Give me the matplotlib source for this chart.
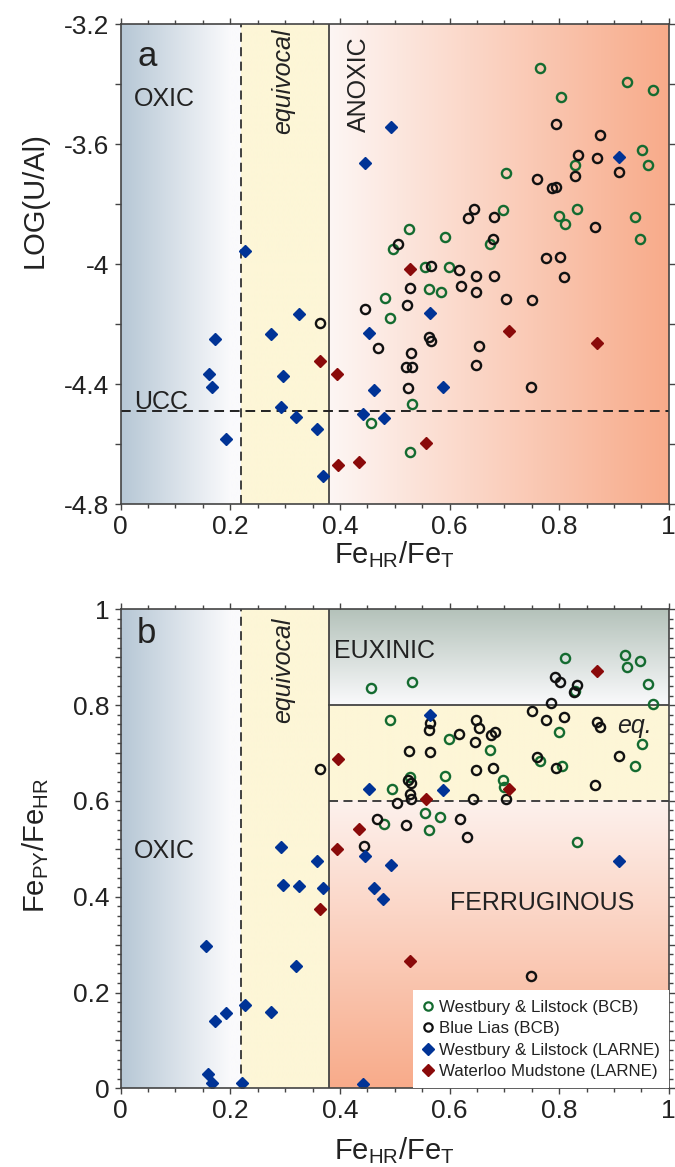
import numpy as np
import matplotlib.pyplot as plt
from matplotlib.ticker import MultipleLocator
from matplotlib.lines import Line2D

plt.rcParams['font.family'] = ['Liberation Sans', 'DejaVu Sans']
plt.rcParams['mathtext.fontset'] = 'custom'
plt.rcParams['mathtext.rm'] = 'Liberation Sans'
plt.rcParams['mathtext.it'] = 'Liberation Sans:italic'

GREEN = '#146b30'
BLACK = '#111111'
BLUE = '#003396'
RED = '#8a0a0a'
TXT = '#222222'

# ---- panel a: FeHR/FeT vs LOG(U/Al) ----
a_wl_bcb_x = [0.765, 0.923, 0.971, 0.804, 0.951, 0.829, 0.962, 0.703, 0.698, 0.799,
              0.833, 0.810, 0.938, 0.948, 0.526, 0.591, 0.674, 0.496, 0.555, 0.599,
              0.482, 0.492, 0.563, 0.584, 0.531, 0.528, 0.457]
a_wl_bcb_y = [-3.348, -3.394, -3.42, -3.443, -3.62, -3.671, -3.671, -3.698, -3.821, -3.839,
              -3.816, -3.868, -3.843, -3.916, -3.882, -3.911, -3.932, -3.951, -4.01, -4.009,
              -4.112, -4.181, -4.084, -4.094, -4.467, -4.628, -4.529]

a_bl_bcb_x = [0.794, 0.875, 0.834, 0.870, 0.909, 0.829, 0.760, 0.787, 0.794, 0.644,
              0.634, 0.682, 0.866, 0.506, 0.679, 0.776, 0.802, 0.566, 0.617, 0.649,
              0.681, 0.808, 0.527, 0.621, 0.648, 0.523, 0.703, 0.751, 0.563, 0.566,
              0.529, 0.653, 0.521, 0.531, 0.649, 0.525, 0.748, 0.469, 0.364, 0.445]
a_bl_bcb_y = [-3.534, -3.57, -3.637, -3.647, -3.694, -3.706, -3.718, -3.748, -3.742, -3.816,
              -3.847, -3.843, -3.877, -3.932, -3.918, -3.981, -3.976, -4.007, -4.02, -4.04,
              -4.04, -4.042, -4.081, -4.072, -4.092, -4.137, -4.117, -4.121, -4.242, -4.256,
              -4.296, -4.272, -4.344, -4.344, -4.338, -4.412, -4.409, -4.281, -4.198, -4.15]

a_wl_larne_x = [0.494, 0.446, 0.226, 0.910, 0.173, 0.161, 0.167, 0.192, 0.275, 0.325,
                0.297, 0.293, 0.320, 0.358, 0.370, 0.454, 0.463, 0.443, 0.480, 0.565, 0.589]
a_wl_larne_y = [-3.543, -3.662, -3.958, -3.642, -4.251, -4.366, -4.41, -4.582, -4.233, -4.166,
                -4.372, -4.478, -4.509, -4.55, -4.706, -4.229, -4.421, -4.501, -4.513, -4.163, -4.409]

a_wm_larne_x = [0.364, 0.395, 0.396, 0.435, 0.528, 0.708, 0.869, 0.558]
a_wm_larne_y = [-4.323, -4.366, -4.669, -4.66, -4.018, -4.222, -4.262, -4.597]

UCC = -4.49

# ---- panel b: FeHR/FeT vs FePY/FeHR ----
b_wl_bcb_x = [0.457, 0.491, 0.495, 0.480, 0.531, 0.810, 0.920, 0.923, 0.947, 0.962,
              0.971, 0.829, 0.599, 0.673, 0.799, 0.951, 0.938, 0.765, 0.805, 0.591,
              0.698, 0.699, 0.527, 0.555, 0.583, 0.563, 0.832]
b_wl_bcb_y = [0.836, 0.769, 0.624, 0.552, 0.848, 0.898, 0.905, 0.880, 0.893, 0.845,
              0.802, 0.830, 0.729, 0.706, 0.744, 0.719, 0.673, 0.683, 0.673, 0.653,
              0.644, 0.630, 0.649, 0.575, 0.567, 0.539, 0.514]

b_bl_bcb_x = [0.364, 0.504, 0.467, 0.444, 0.793, 0.802, 0.833, 0.828, 0.786, 0.750,
              0.776, 0.808, 0.869, 0.875, 0.649, 0.653, 0.617, 0.676, 0.683, 0.564,
              0.563, 0.526, 0.564, 0.647, 0.759, 0.794, 0.909, 0.648, 0.680, 0.865,
              0.524, 0.530, 0.527, 0.529, 0.643, 0.703, 0.521, 0.620, 0.632, 0.748]
b_bl_bcb_y = [0.667, 0.595, 0.563, 0.506, 0.859, 0.848, 0.842, 0.828, 0.804, 0.788,
              0.769, 0.775, 0.765, 0.754, 0.769, 0.752, 0.740, 0.738, 0.743, 0.763,
              0.748, 0.704, 0.703, 0.724, 0.692, 0.669, 0.694, 0.664, 0.669, 0.633,
              0.644, 0.638, 0.614, 0.605, 0.603, 0.605, 0.549, 0.562, 0.525, 0.234]

b_wl_larne_x = [0.454, 0.293, 0.358, 0.494, 0.446, 0.564, 0.589, 0.910, 0.296, 0.325,
                0.369, 0.462, 0.479, 0.156, 0.319, 0.226, 0.275, 0.192, 0.172, 0.160,
                0.166, 0.222, 0.443]
b_wl_larne_y = [0.624, 0.504, 0.475, 0.466, 0.486, 0.780, 0.623, 0.475, 0.424, 0.422,
                0.418, 0.418, 0.396, 0.298, 0.255, 0.173, 0.159, 0.157, 0.140, 0.030,
                0.012, 0.012, 0.009]

b_wm_larne_x = [0.396, 0.434, 0.395, 0.869, 0.558, 0.708, 0.364, 0.528]
b_wm_larne_y = [0.687, 0.541, 0.499, 0.872, 0.605, 0.625, 0.374, 0.266]

legend_labels = ['Westbury & Lilstock (BCB)', 'Blue Lias (BCB)',
                 'Westbury & Lilstock (LARNE)', 'Waterloo Mudstone (LARNE)']

# thresholds
OXIC_LIM = 0.22
ANOX_LIM = 0.38
FERR_LIM = 0.6
EUX_LIM = 0.8


def gradient(ax, x0, x1, y0, y1, c0, c1, horizontal=True):
    # c0 at start (left / bottom), c1 at end
    t = np.linspace(0, 1, 256)
    c0 = np.array(c0) / 255.0
    c1 = np.array(c1) / 255.0
    cols = c0[None, :] * (1 - t[:, None]) + c1[None, :] * t[:, None]
    if horizontal:
        img = cols[None, :, :]
    else:
        img = cols[:, None, :]
    ax.imshow(img, extent=[x0, x1, y0, y1], origin='lower', aspect='auto',
              interpolation='bilinear', zorder=0)


def style_axes(ax):
    for s in ax.spines.values():
        s.set_linewidth(1.2)
        s.set_color('#444444')
        s.set_zorder(5)
    ax.tick_params(which='both', direction='out', top=True, right=True,
                   color='#444444', labelcolor=TXT, labelsize=19, width=1)
    ax.tick_params(which='major', length=4.5)
    ax.tick_params(which='minor', length=2.8)
    ax.set_xlim(0, 1)
    ax.set_xticks([0, 0.2, 0.4, 0.6, 0.8, 1])
    ax.set_xticklabels(['0', '0.2', '0.4', '0.6', '0.8', '1'])
    ax.xaxis.set_minor_locator(MultipleLocator(0.05))


def draw_points(ax, gx, gy, kx, ky, bx, by, rx, ry):
    ax.plot(gx, gy, 'o', ms=6.6, mfc='none', mec=GREEN, mew=1.7, ls='none', zorder=3)
    ax.plot(kx, ky, 'o', ms=6.6, mfc='none', mec=BLACK, mew=1.7, ls='none', zorder=3)
    ax.plot(bx, by, 'D', ms=6.3, color=BLUE, mec=BLUE, ls='none', zorder=4)
    ax.plot(rx, ry, 'D', ms=6.3, color=RED, mec=RED, ls='none', zorder=4)


fig = plt.figure(figsize=(6.75, 11.67), dpi=100)
ax1 = fig.add_axes([0.1788, 0.5681, 0.8119, 0.4113])
ax2 = fig.add_axes([0.1788, 0.0674, 0.8119, 0.4105])

blue0 = (182, 199, 213)
white = (250, 250, 252)
yellow = (253, 246, 215)
salmon = (248, 171, 138)
pinkw = (253, 246, 244)
green0 = (180, 194, 186)

# ---- panel a ----
ya0, ya1 = -4.8, -3.2
gradient(ax1, 0, 0.2, ya0, ya1, blue0, white)
gradient(ax1, 0.2, OXIC_LIM, ya0, ya1, white, white)
gradient(ax1, OXIC_LIM, ANOX_LIM, ya0, ya1, yellow, yellow)
gradient(ax1, ANOX_LIM, 1, ya0, ya1, pinkw, salmon)

ax1.axvline(OXIC_LIM, color='#333333', lw=1.3, ls=(0, (5, 3)), zorder=2)
ax1.axvline(ANOX_LIM, color='#444444', lw=1.3, zorder=2)
ax1.axhline(UCC, color='#222222', lw=1.4, ls=(0, (5, 3)), zorder=2)

draw_points(ax1, a_wl_bcb_x, a_wl_bcb_y, a_bl_bcb_x, a_bl_bcb_y,
            a_wl_larne_x, a_wl_larne_y, a_wm_larne_x, a_wm_larne_y)

style_axes(ax1)
ax1.set_ylim(ya0, ya1)
ax1.set_yticks(np.round(np.arange(-4.8, -3.19, 0.2), 1))
ax1.set_yticklabels(['-4.8', '', '-4.4', '', '-4', '', '-3.6', '', '-3.2'])

ax1.text(0.03, -3.34, 'a', fontsize=25, color=TXT)
ax1.text(0.024, -3.473, 'OXIC', fontsize=18, color=TXT)
ax1.text(0.297, -3.215, 'equivocal', fontsize=18, style='italic', rotation=90,
         ha='center', va='top', color=TXT)
ax1.text(0.434, -3.24, 'ANOXIC', fontsize=18, rotation=90, ha='center', va='top', color=TXT)
ax1.text(0.024, -4.483, 'UCC', fontsize=18, color=TXT)

ax1.text(-0.157, 0.633, 'LOG(U/Al)', transform=ax1.transAxes, rotation=90,
         ha='center', va='center', fontsize=21, color=TXT)
ax1.text(0.5, -0.105, r'Fe$_{\mathrm{HR}}$/Fe$_{\mathrm{T}}$', transform=ax1.transAxes,
         ha='center', va='center', fontsize=21, color=TXT)

# ---- panel b ----
gradient(ax2, 0, 0.2, 0, 1, blue0, white)
gradient(ax2, 0.2, OXIC_LIM, 0, 1, white, white)
gradient(ax2, OXIC_LIM, ANOX_LIM, 0, 1, yellow, yellow)
gradient(ax2, ANOX_LIM, 1, EUX_LIM, 1, white, green0, horizontal=False)
gradient(ax2, ANOX_LIM, 1, FERR_LIM, EUX_LIM, yellow, yellow)
gradient(ax2, ANOX_LIM, 1, 0, FERR_LIM, salmon, (253, 241, 237), horizontal=False)

ax2.axvline(OXIC_LIM, color='#333333', lw=1.3, ls=(0, (5, 3)), zorder=2)
ax2.axvline(ANOX_LIM, color='#444444', lw=1.3, zorder=2)
ax2.plot([ANOX_LIM, 1], [EUX_LIM, EUX_LIM], color='#444444', lw=1.3, zorder=2)
ax2.plot([ANOX_LIM, 1], [FERR_LIM, FERR_LIM], color='#333333', lw=1.3,
         ls=(0, (5, 3)), zorder=2)

draw_points(ax2, b_wl_bcb_x, b_wl_bcb_y, b_bl_bcb_x, b_bl_bcb_y,
            b_wl_larne_x, b_wl_larne_y, b_wm_larne_x, b_wm_larne_y)

style_axes(ax2)
ax2.set_ylim(0, 1)
ax2.set_yticks(np.round(np.arange(0, 1.01, 0.1), 1))
ax2.set_yticklabels(['0', '', '0.2', '', '0.4', '', '0.6', '', '0.8', '', '1'])
ax2.yaxis.set_minor_locator(MultipleLocator(0.02))

ax2.text(0.03, 0.93, 'b', fontsize=25, color=TXT)
ax2.text(0.296, 0.982, 'equivocal', fontsize=18, style='italic', rotation=90,
         ha='center', va='top', color=TXT)
ax2.text(0.389, 0.899, 'EUXINIC', fontsize=18, color=TXT)
ax2.text(0.024, 0.481, 'OXIC', fontsize=18, color=TXT)
ax2.text(0.906, 0.741, 'eq.', fontsize=18, style='italic', color=TXT)
ax2.text(0.601, 0.372, 'FERRUGINOUS', fontsize=18, color=TXT)

ax2.text(-0.155, 0.508, r'Fe$_{\mathrm{PY}}$/Fe$_{\mathrm{HR}}$', transform=ax2.transAxes,
         rotation=90, ha='center', va='center', fontsize=21, color=TXT)
ax2.text(0.5, -0.13, r'Fe$_{\mathrm{HR}}$/Fe$_{\mathrm{T}}$', transform=ax2.transAxes,
         ha='center', va='center', fontsize=21, color=TXT)

handles = [
    Line2D([], [], marker='o', ls='none', ms=6, mfc='none', mec=GREEN, mew=1.6),
    Line2D([], [], marker='o', ls='none', ms=6, mfc='none', mec=BLACK, mew=1.6),
    Line2D([], [], marker='D', ls='none', ms=5.8, color=BLUE),
    Line2D([], [], marker='D', ls='none', ms=5.8, color=RED),
]
leg = ax2.legend(handles, legend_labels, loc='lower right', fontsize=12.2,
                 frameon=True, fancybox=False, facecolor='white', edgecolor='none',
                 framealpha=1, borderaxespad=0, handlelength=0.7, handletextpad=0.25,
                 labelspacing=0.38, borderpad=0.55)
leg.set_zorder(6)
for t in leg.get_texts():
    t.set_color(TXT)

fig.savefig('out.png', dpi=100)
